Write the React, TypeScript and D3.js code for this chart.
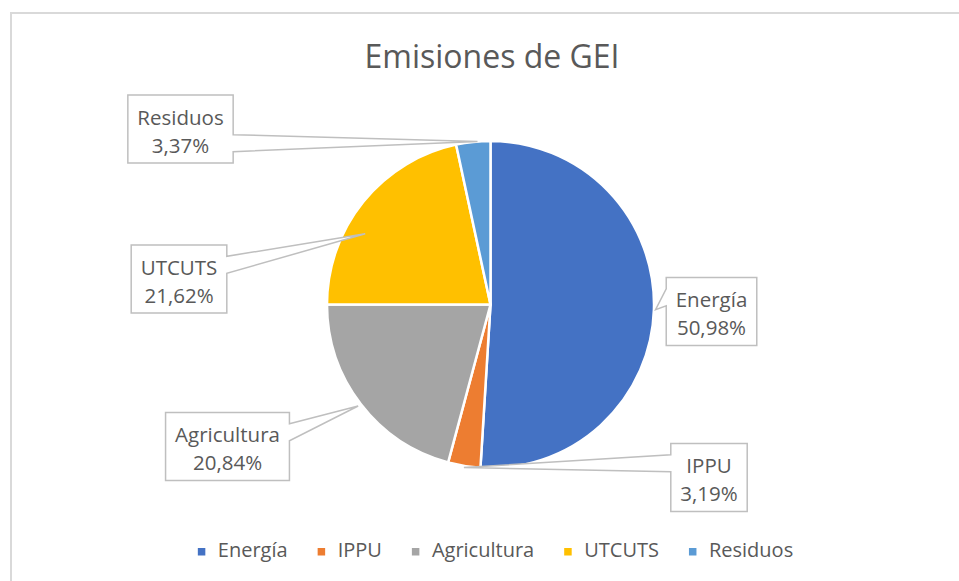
import React, { useRef, useEffect } from "react";
import * as d3 from "d3";

// data
const categories = ["Energía", "IPPU", "Agricultura", "UTCUTS", "Residuos"];
const shares = [50.98, 3.19, 20.84, 21.62, 3.37];
const colors = ["#4472C4", "#ED7D31", "#A5A5A5", "#FFC000", "#5B9BD5"];
const title = "Emisiones de GEI";

// callout placement (box centre relative to pie centre, tip radius / angle shift in degrees)
const calloutBox = [
  [221, 7],
  [218.5, 173],
  [-263, 142],
  [-311.5, -25.5],
  [-310, -175.5],
];
const calloutTip = [
  [1.01, 0],
  [1.01, 0],
  [1.02, 0],
  [0.88, -9.5],
  [1.0, 1.5],
];

const W = 959;
const H = 581;
const FONT = "'Open Sans', 'Noto Sans', sans-serif";
const TEXT = "#595959";

const fmt = (v: number) => v.toFixed(2).replace(".", ",") + "%";

function App() {
  const svgRef = useRef<SVGSVGElement>(null);

  useEffect(() => {
    const svg = d3.select(svgRef.current);
    svg.selectAll("*").remove();

    // outer frame of the chart area
    svg
      .append("rect")
      .attr("x", 11)
      .attr("y", 13)
      .attr("width", 2000)
      .attr("height", 2000)
      .attr("fill", "white")
      .attr("stroke", "#d9d9d9")
      .attr("stroke-width", 2);

    svg
      .append("text")
      .attr("x", 492)
      .attr("y", 67.5)
      .attr("text-anchor", "middle")
      .attr("font-family", FONT)
      .attr("font-size", 32)
      .attr("fill", TEXT)
      .text(title);

    const cx = 490.5;
    const cy = 304.5;
    const r = 163.5;

    const data = categories.map((c, i) => ({ name: c, value: shares[i], color: colors[i] }));
    const pie = d3.pie<any>().sort(null).value((d) => d.value);
    const arcs = pie(data);
    const arc = d3.arc<any>().innerRadius(0).outerRadius(r);

    const g = svg.append("g").attr("transform", `translate(${cx},${cy})`);
    g.selectAll(".slice")
      .data(arcs)
      .join("path")
      .attr("class", "slice")
      .attr("d", arc)
      .attr("fill", (d) => d.data.color)
      .attr("stroke", "white")
      .attr("stroke-width", 2.5)
      .attr("stroke-linejoin", "round");

    // data callouts (wedgeRectCallout style)
    const lineH = 28;
    arcs.forEach((a, i) => {
      const mid = (a.startAngle + a.endAngle) / 2 + (calloutTip[i][1] * Math.PI) / 180;
      const tr = r * calloutTip[i][0];
      const tx = Math.sin(mid) * tr;
      const ty = -Math.cos(mid) * tr;

      const lg = g.append("g");
      const texts = [a.data.name, fmt(a.data.value)];
      const tEls = texts.map((t) =>
        lg
          .append("text")
          .attr("text-anchor", "middle")
          .attr("font-family", FONT)
          .attr("font-size", 20.5)
          .attr("fill", TEXT)
          .text(t)
      );
      const tw = d3.max(tEls, (t) => (t.node() as SVGTextElement).getComputedTextLength()) || 0;
      const bw = tw + 19;
      const bh = 68;
      const bx = calloutBox[i][0] - bw / 2;
      const by = calloutBox[i][1] - bh / 2;

      // tip relative to box
      const px = tx - bx;
      const py = ty - by;
      const dx = px - bw / 2;
      const dy = py - bh / 2;
      const y1 = (bh * (dy > 0 ? 7 : 2)) / 12;
      const y2 = (bh * (dy > 0 ? 10 : 5)) / 12;
      const x1 = (bw * (dx > 0 ? 7 : 2)) / 12;
      const x2 = (bw * (dx > 0 ? 10 : 5)) / 12;
      const horiz = Math.abs(dy) < Math.abs((dx * bh) / bw);
      const p = d3.path();
      p.moveTo(0, 0);
      if (!horiz && dy < 0) {
        p.lineTo(x1, 0);
        p.lineTo(px, py);
        p.lineTo(x2, 0);
      }
      p.lineTo(bw, 0);
      if (horiz && dx > 0) {
        p.lineTo(bw, y1);
        p.lineTo(px, py);
        p.lineTo(bw, y2);
      }
      p.lineTo(bw, bh);
      if (!horiz && dy > 0) {
        p.lineTo(x2, bh);
        p.lineTo(px, py);
        p.lineTo(x1, bh);
      }
      p.lineTo(0, bh);
      if (horiz && dx < 0) {
        p.lineTo(0, y2);
        p.lineTo(px, py);
        p.lineTo(0, y1);
      }
      p.closePath();

      lg.insert("path", "text")
        .attr("transform", `translate(${bx},${by})`)
        .attr("d", p.toString())
        .attr("fill", "white")
        .attr("stroke", "#bfbfbf")
        .attr("stroke-width", 1.5)
        .attr("stroke-linejoin", "miter");

      tEls.forEach((t, k) =>
        t.attr("x", calloutBox[i][0]).attr("y", calloutBox[i][1] + (k - 0.5) * lineH + 9.5)
      );
    });

    // legend
    const leg = svg.append("g");
    const items = data.map((d) => {
      const ig = leg.append("g");
      ig.append("rect").attr("width", 7.5).attr("height", 7.5).attr("y", 548).attr("fill", d.color);
      const t = ig
        .append("text")
        .attr("x", 20)
        .attr("y", 557)
        .attr("font-family", FONT)
        .attr("font-size", 20)
        .attr("fill", TEXT)
        .text(d.name);
      return { ig, w: 20 + (t.node() as SVGTextElement).getComputedTextLength() };
    });
    const gap = 30;
    const total = d3.sum(items, (d) => d.w) + gap * (items.length - 1);
    let x = 495.5 - total / 2;
    items.forEach((it) => {
      it.ig.attr("transform", `translate(${x},0)`);
      x += it.w + gap;
    });
  }, []);

  return (
    <div style={{ position: "fixed", left: 0, top: 0, width: W, height: H, background: "white" }}>
      <svg ref={svgRef} width={W} height={H} style={{ display: "block" }} />
    </div>
  );
}

export default App;
